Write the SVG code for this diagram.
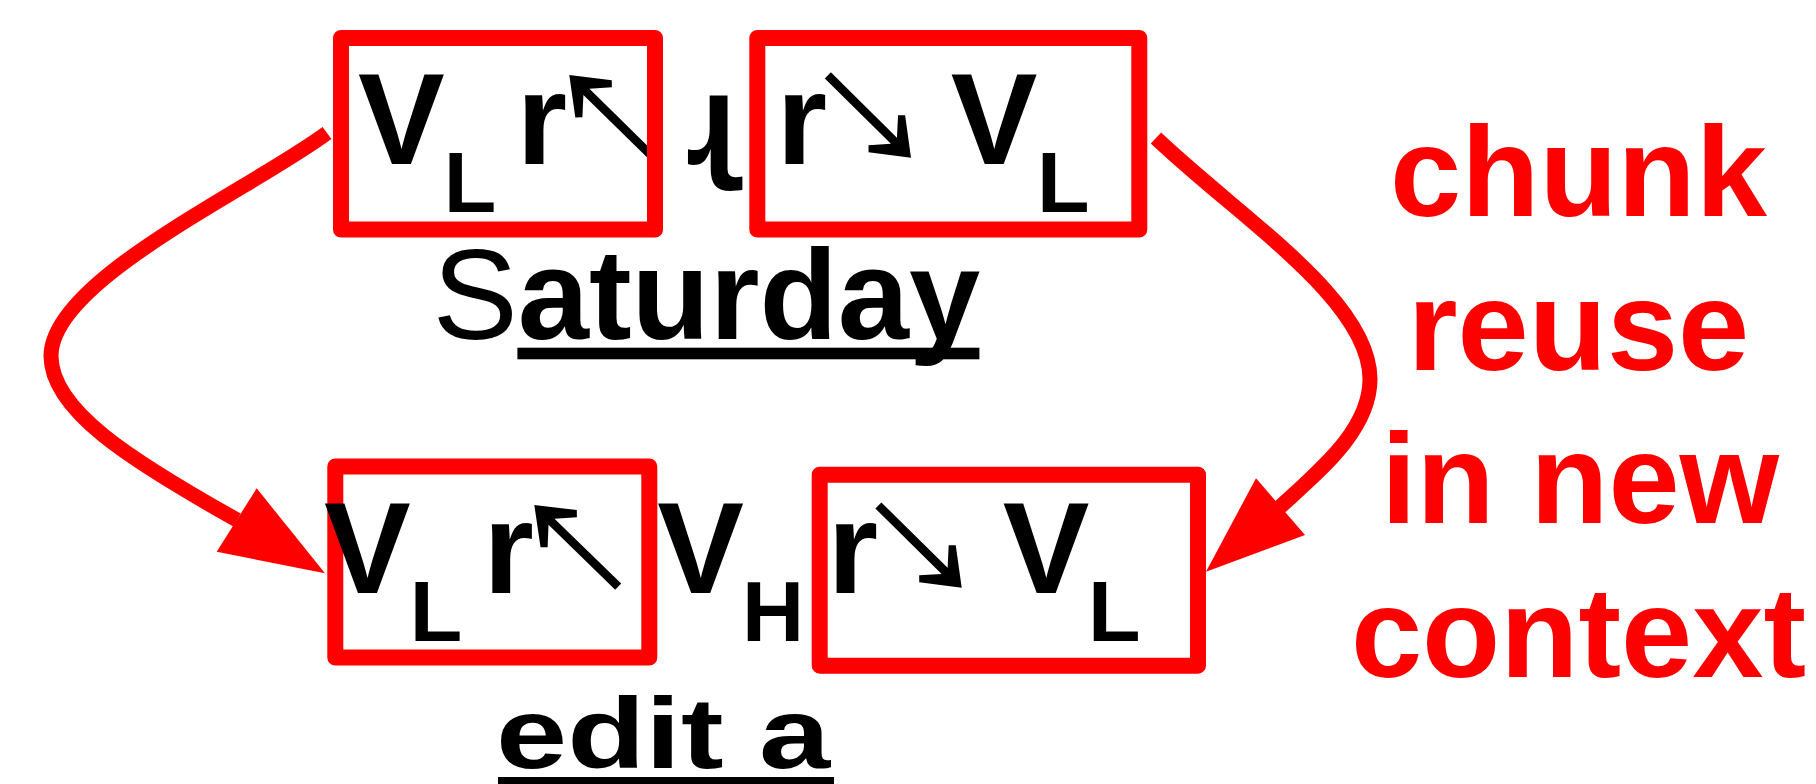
<svg xmlns="http://www.w3.org/2000/svg" xmlns:xlink="http://www.w3.org/1999/xlink" width="1816" height="784" viewBox="0 0 1816 784">
  <style>
    .box { fill: none; stroke: #ff0000; stroke-width: 16; stroke-linejoin: round; }
    .big { font-family: "Liberation Sans", Arial, "DejaVu Sans", sans-serif; font-weight: bold; font-size: 130px; fill: #000; }
    .sub { font-family: "Liberation Sans", Arial, sans-serif; font-weight: bold; font-size: 86px; fill: #000; }
    .label { font-family: "Liberation Sans", Arial, sans-serif; font-size: 128px; fill: #000; }
    .label-small { font-family: "Liberation Sans", Arial, sans-serif; font-weight: bold; font-size: 100px; fill: #000; }
    .note { font-family: "Liberation Sans", Arial, sans-serif; font-weight: bold; font-size: 128px; fill: #ff0000; text-anchor: middle; }
    .link { fill: none; stroke: #ff0000; stroke-width: 15; }
    .head { fill: #ff0000; }
  </style>
  <defs>
    <!-- small black arrow, tip at origin, shaft running along +x -->
    <polygon id="arr" points="0,0 34,-26 39,-21 24,-4.3 117,-4.3 117,4.3 24,4.3 39,21 34,26" fill="#000"/>
  </defs>

  <rect width="1816" height="784" fill="#fff"/>

  <!-- connectors -->
  <g id="connectors">
    <path class="link" d="M327,133 C250,190 51,280 51,356 C51,410 130,460 237,520"/>
    <polygon class="head" points="325,573.3 256.7,488.3 216.7,551.7"/>
    <path class="link" d="M1156,138 C1240,218 1370,300 1370,379 C1370,430 1320,470 1280,507"/>
    <polygon class="head" points="1206,571.7 1256,478.3 1305,535"/>
  </g>

  <!-- top left chunk -->
  <g id="chunk-top-left">
    <use xlink:href="#arr" transform="translate(569.3,75) rotate(44.5)"/>
    <rect class="box" x="341" y="38" width="314" height="191.5"/>
    <text class="big" x="358" y="164">V</text>
    <text class="sub" x="443.7" y="211.7">L</text>
    <text class="big" x="516.5" y="164">r</text>
  </g>

  <!-- retroflex glyph between the top chunks -->
  <g id="glyph-between">
    <text class="big" x="686" y="164">ɻ</text>
  </g>

  <!-- top right chunk -->
  <g id="chunk-top-right">
    <use xlink:href="#arr" transform="translate(911,157.7) rotate(224.7)"/>
    <rect class="box" x="757.3" y="38" width="382" height="191.5"/>
    <text class="big" x="776.5" y="164">r</text>
    <text class="big" x="950.7" y="164">V</text>
    <text class="sub" x="1037" y="211.7">L</text>
  </g>

  <!-- word label under the top row -->
  <g id="label-saturday">
    <text class="label" x="432.4" y="339">S<tspan font-weight="bold">aturday</tspan></text>
    <rect x="517.4" y="347.7" width="462" height="11.6" fill="#000"/>
  </g>

  <!-- bottom left chunk -->
  <g id="chunk-bottom-left">
    <use xlink:href="#arr" transform="translate(534.3,505) rotate(44.2)"/>
    <rect class="box" x="335.3" y="466.5" width="314" height="191"/>
    <text class="big" x="324" y="592.7">V</text>
    <text class="sub" x="409.7" y="640.7">L</text>
    <text class="big" x="483.2" y="592.7">r</text>
  </g>

  <!-- vowel between the bottom chunks -->
  <g id="vowel-between">
    <text class="big" x="657.3" y="592.7">V</text>
    <text class="sub" x="742" y="640.7">H</text>
  </g>

  <!-- bottom right chunk -->
  <g id="chunk-bottom-right">
    <use xlink:href="#arr" transform="translate(961.7,587.7) rotate(224.6)"/>
    <rect class="box" x="819.7" y="474.7" width="378.3" height="191"/>
    <text class="big" x="827.5" y="592.7">r</text>
    <text class="big" x="1002.7" y="592.7">V</text>
    <text class="sub" x="1088" y="640.7">L</text>
  </g>

  <!-- word label under the bottom row -->
  <g id="label-edit">
    <text class="label-small" transform="translate(496,768) scale(1.28,1)">edit a</text>
    <rect x="498" y="777" width="336" height="7" fill="#000"/>
  </g>

  <!-- side note -->
  <g id="note">
    <text class="note" x="1578.5" y="215.6">chunk</text>
    <text class="note" x="1578.5" y="369.8">reuse</text>
    <text class="note" x="1580" y="522.9">in new</text>
    <text class="note" x="1578.5" y="676.7">context</text>
  </g>
</svg>
